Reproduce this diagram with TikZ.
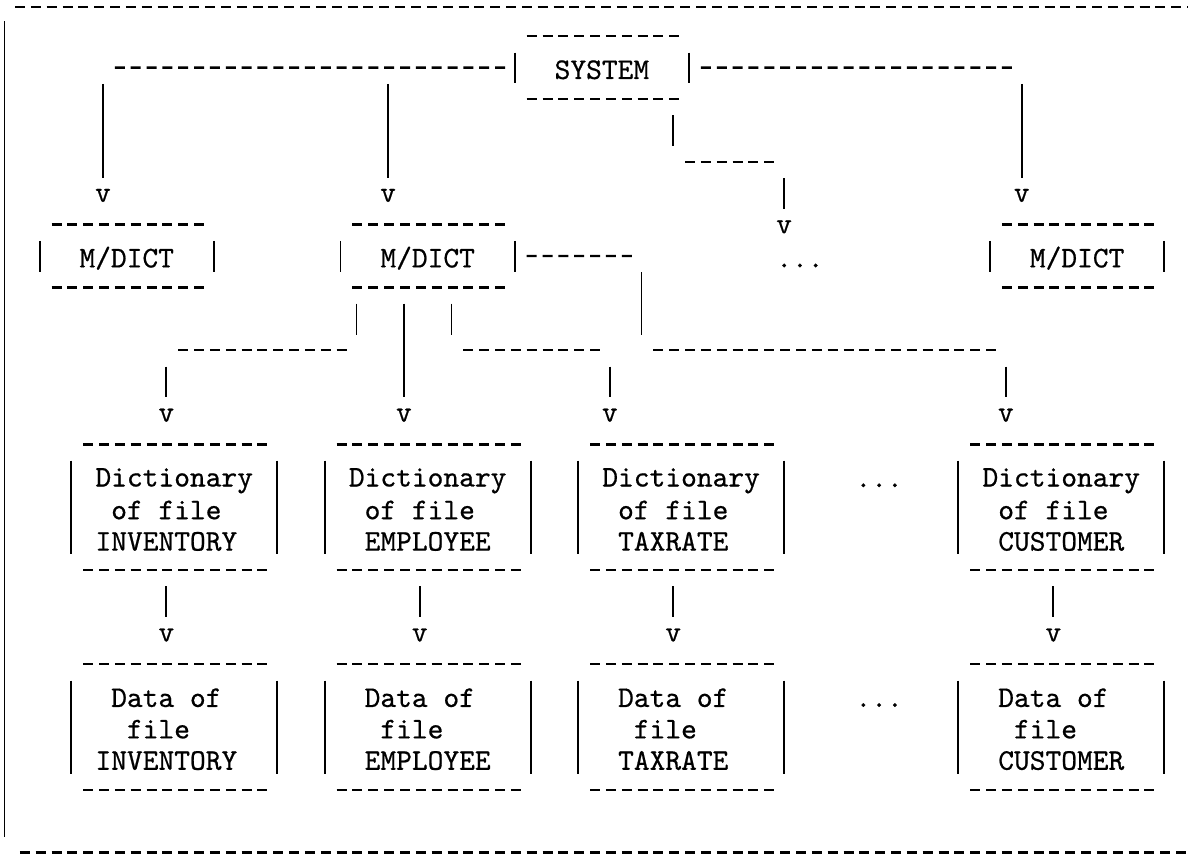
\documentclass[tikz,border=0pt]{standalone}
\usepackage{fontspec}
% typed text: Latin Modern Mono, slightly heavier as from a ribbon
\newfontfamily\typewriter[Extension=.otf,FakeBold=0.6]{lmmono10-regular}
% one typed line: fixed height and depth so that rows stack on a 31.4pt pitch
\newcommand\tlstrut{\rule[-6.55pt]{0pt}{31.4pt}}
% a typed box: dashed top and bottom runs, solid side bars
\newcommand\ttframe[1]{%
  \draw[tdash] ([xshift=11.92pt,yshift=2.2pt]#1.north west) -- ([xshift=-9.76pt,yshift=2.2pt]#1.north east);
  \draw[tdash] ([xshift=11.92pt,yshift=2.2pt]#1.south west) -- ([xshift=-9.76pt,yshift=2.2pt]#1.south east);
  \draw[tbar] ([yshift=-14.13pt]#1.north west) -- ([yshift=17.9pt]#1.south west);
  \draw[tbar] ([yshift=-14.13pt]#1.north east) -- ([yshift=17.9pt]#1.south east);
}
\tikzset{
  tt/.style={font=\fontsize{30}{31.4}\selectfont\typewriter, inner sep=0pt, outer sep=0pt, align=left},
  tdash/.style={line width=2.4pt, dash pattern=on 10pt off 5.84pt},
  tbar/.style={line width=1.8pt},
  vhead/.style={tt, yshift=2.7pt},
  mbox/.style={tt, minimum width=174.24pt, minimum height=62.8pt},
  fbox/.style={tt, minimum width=205.92pt, minimum height=125.6pt},
}
\begin{document}
\begin{tikzpicture}[x=15.84pt, y=-31.4pt, shift={(0.5,0.2229)}]
\useasboundingbox (-0.5,-0.2229) rectangle (74.5,27.0382);

% ---- outer frame
\coordinate (topL) at (0.447,0);  \coordinate (topR) at (75.5,0);
\coordinate (botL) at (0.7525,26.93); \coordinate (botR) at (75.5,26.93);
\coordinate (sideT) at (-0.21,0.45);  \coordinate (sideB) at (-0.21,26.43);
\draw[tdash] (topL) -- (topR);
\draw[tdash] (botL) -- (botR);
\draw[tbar, line width=1.5pt] (sideT) -- (sideB);

% ---- boxes
\node[mbox] (sys) at (37.5,2) {\tlstrut SYSTEM};
\node[mbox] (md1) at (7.5,8)  {\tlstrut M/DICT};
\node[mbox] (md2) at (26.5,8) {\tlstrut M/DICT};
\node[mbox] (md4) at (67.5,8) {\tlstrut M/DICT};
\node[tt] (mdots) at (50,8) {\tlstrut ...};

\node[fbox] (dinv) at (10.5,16) {\tlstrut Dictionary\\\tlstrut\hphantom{X}of file\\\tlstrut INVENTORY};
\node[fbox] (demp) at (26.5,16) {\tlstrut Dictionary\\\tlstrut\hphantom{X}of file\\\tlstrut\hphantom{X}EMPLOYEE};
\node[fbox] (dtax) at (42.5,16) {\tlstrut Dictionary\\\tlstrut\hphantom{X}of file\\\tlstrut\hphantom{X}TAXRATE};
\node[fbox] (dcus) at (66.5,16) {\tlstrut Dictionary\\\tlstrut\hphantom{X}of file\\\tlstrut\hphantom{X}CUSTOMER};
\node[tt] (ddots) at (55,15) {\tlstrut ...};

\node[fbox] (finv) at (10.5,23) {\tlstrut\hphantom{X}Data of\\\tlstrut\hphantom{XX}file\\\tlstrut INVENTORY\hphantom{X}};
\node[fbox] (femp) at (26.5,23) {\tlstrut Data of\\\tlstrut\hphantom{X}file\\\tlstrut EMPLOYEE};
\node[fbox] (ftax) at (42.5,23) {\tlstrut Data of\\\tlstrut\hphantom{X}file\\\tlstrut TAXRATE\hphantom{X}};
\node[fbox] (fcus) at (66.5,23) {\tlstrut Data of\\\tlstrut\hphantom{X}file\\\tlstrut CUSTOMER};
\node[tt] (fdots) at (55,22) {\tlstrut ...};

\foreach \b in {sys,md1,md2,md4,dinv,demp,dtax,dcus,finv,femp,ftax,fcus} {\ttframe{\b}}

% ---- SYSTEM fan-out
\coordinate (sL) at (6.7525,1.93);
\coordinate (sR) at (63.3838,1.93);
\draw[tdash] (sL) -- ([xshift=-9.76pt,yshift=2.2pt]sys.west);
\draw[tdash] ([xshift=11.92pt,yshift=2.2pt]sys.east) -- (sR);

\coordinate (a1) at (6,2.45);  \coordinate (a2) at (6,5.43);
\coordinate (b1) at (24,2.45); \coordinate (b2) at (24,5.43);
\coordinate (c1) at (64,2.45); \coordinate (c2) at (64,5.43);
\draw[tbar] (a1) -- (a2);
\draw[tbar] (b1) -- (b2);
\draw[tbar] (c1) -- (c2);
\node[vhead] (va) at (6,6)  {\tlstrut v};
\node[vhead] (vb) at (24,6) {\tlstrut v};
\node[vhead] (vc) at (64,6) {\tlstrut v};

\coordinate (m1) at (42,3.45);    \coordinate (m2) at (42,4.43);
\coordinate (m3) at (42.7525,4.93); \coordinate (m4) at (48.3838,4.93);
\coordinate (m5) at (49,5.45);    \coordinate (m6) at (49,6.43);
\draw[tbar] (m1) -- (m2);
\draw[tdash] (m3) -- (m4);
\draw[tbar] (m5) -- (m6);
\node[vhead] (vm) at (49,7) {\tlstrut v};

% ---- M/DICT fan-out
\coordinate (r1) at (39.3838,7.93);
\draw[tdash] ([xshift=11.92pt,yshift=2.2pt]md2.east) -- (r1);
\coordinate (r2) at (40,8.45);     \coordinate (r3) at (40,10.43);
\coordinate (r4) at (40.7525,10.93); \coordinate (r5) at (62.3838,10.93);
\coordinate (r6) at (63,11.45);    \coordinate (r7) at (63,12.43);
\draw[tbar] (r2) -- (r3);
\draw[tdash] (r4) -- (r5);
\draw[tbar] (r6) -- (r7);
\node[vhead] (vr) at (63,13) {\tlstrut v};

\coordinate (e1) at (22,9.45);     \coordinate (e2) at (22,10.43);
\coordinate (e3) at (10.7525,10.93); \coordinate (e4) at (21.3838,10.93);
\coordinate (e5) at (10,11.45);    \coordinate (e6) at (10,12.43);
\draw[tbar] (e1) -- (e2);
\draw[tdash] (e3) -- (e4);
\draw[tbar] (e5) -- (e6);
\node[vhead] (ve) at (10,13) {\tlstrut v};

\coordinate (f1) at (25,9.45);     \coordinate (f2) at (25,12.43);
\draw[tbar] (f1) -- (f2);
\node[vhead] (vf) at (25,13) {\tlstrut v};

\coordinate (g1) at (28,9.45);     \coordinate (g2) at (28,10.43);
\coordinate (g3) at (28.7525,10.93); \coordinate (g4) at (37.3838,10.93);
\coordinate (g5) at (38,11.45);    \coordinate (g6) at (38,12.43);
\draw[tbar] (g1) -- (g2);
\draw[tdash] (g3) -- (g4);
\draw[tbar] (g5) -- (g6);
\node[vhead] (vg) at (38,13) {\tlstrut v};

% ---- dictionary to data
\foreach \c/\n in {10/i,26/j,42/k,66/l} {
  \coordinate (t\n) at (\c,18.45);
  \coordinate (u\n) at (\c,19.43);
  \draw[tbar] (t\n) -- (u\n);
  \node[vhead] (w\n) at (\c,20) {\tlstrut v};
}
\end{tikzpicture}
\end{document}
